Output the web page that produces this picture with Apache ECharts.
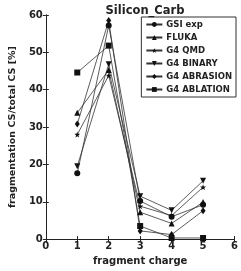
<!DOCTYPE html>
<html><head><meta charset="utf-8">
<script src="https://cdn.jsdelivr.net/npm/echarts@6/dist/echarts.min.js"></script>
<style>html,body{margin:0;padding:0;background:#fff}#c{width:241px;height:271px}</style>
</head><body><div id="c"></div>
<script>
const charges = [1, 2, 3, 4, 5];
const gsiExp   = [17.6, 57.2, 10.2, 6.0, 9.2];
const fluka    = [33.8, 45.3, 7.2, 4.2, 9.9];
const g4Qmd    = [28.0, 43.8, 8.8, 6.3, 13.9];
const g4Binary = [19.5, 46.8, 11.5, 7.7, 15.6];
const g4Abrasion = [30.8, 58.5, 2.2, 1.2, 7.6];
const g4Ablation = [44.6, 51.8, 3.5, 0.3, 0.3];
const seriesNames = ['GSI exp', 'FLUKA', 'G4 QMD', 'G4 BINARY', 'G4 ABRASION', 'G4 ABLATION'];
const xTicks = [0, 1, 2, 3, 4, 5, 6];
const yTicks = [0, 10, 20, 30, 40, 50, 60];

const starPath = 'path://M0,-10 L2.35,-3.24 L9.51,-3.09 L3.8,1.24 L5.88,8.09 L0,4 L-5.88,8.09 L-3.8,1.24 L-9.51,-3.09 L-2.35,-3.24 Z';
const invTri = 'path://M0,10 L-10,-7 L10,-7 Z';
const symbols = [
  {symbol: 'circle', size: 6},
  {symbol: 'triangle', size: 6},
  {symbol: starPath, size: 6},
  {symbol: invTri, size: 6},
  {symbol: 'diamond', size: [5, 7]},
  {symbol: 'rect', size: 6}
];
const allData = [gsiExp, fluka, g4Qmd, g4Binary, g4Abrasion, g4Ablation];
const font = 'DejaVu Sans';
const txt = '#222';

const chart = echarts.init(document.getElementById('c'));
const axisCommon = {
  min: 0,
  axisLine: {show: true, lineStyle: {color: '#222', width: 1}},
  axisTick: {show: true, inside: true, length: 3, lineStyle: {color: '#222'}},
  splitLine: {show: false}
};
chart.setOption({
  animation: false,
  backgroundColor: '#fff',
  title: {
    text: 'Silicon_Carb', left: 140, top: 0, textAlign: 'center',
    textStyle: {fontFamily: font, fontWeight: 'bold', fontSize: 11.5, color: txt}
  },
  grid: {left: 31, right: 3, top: 15, bottom: 22},
  legend: {
    data: seriesNames,
    orient: 'vertical', right: 5, top: 17,
    borderColor: '#333', borderWidth: 1, borderRadius: 0,
    padding: [3, 4, 3, 4],
    itemGap: 4, itemWidth: 16, itemHeight: 6,
    textStyle: {fontFamily: font, fontWeight: 'bold', fontSize: 8.5, color: txt, padding: [0, 0, 0, -1]},
    backgroundColor: '#fff'
  },
  xAxis: [
    Object.assign({}, axisCommon, {
      type: 'value', max: 6, interval: 1, position: 'bottom',
      name: 'fragment charge', nameLocation: 'middle', nameGap: 10,
      nameTextStyle: {fontFamily: font, fontWeight: 'bold', fontSize: 10, color: txt},
      axisLabel: {fontFamily: font, fontWeight: 'bold', fontSize: 10, color: txt, margin: 2}
    }),
    Object.assign({}, axisCommon, {
      type: 'value', max: 6, interval: 1, position: 'top',
      axisLabel: {show: false}
    })
  ],
  yAxis: [
    Object.assign({}, axisCommon, {
      type: 'value', max: 60, interval: 10, position: 'left',
      name: 'fragmentation CS/total CS [%]', nameLocation: 'middle', nameGap: 20,
      nameTextStyle: {fontFamily: font, fontWeight: 'bold', fontSize: 9.5, color: txt},
      axisLabel: {fontFamily: font, fontWeight: 'bold', fontSize: 10, color: txt, margin: 3}
    }),
    Object.assign({}, axisCommon, {
      type: 'value', max: 60, interval: 10, position: 'right',
      axisLabel: {show: false}
    })
  ],
  series: seriesNames.map((n, i) => ({
    name: n, type: 'line',
    xAxisIndex: 0, yAxisIndex: 0,
    data: charges.map((c, j) => [c, allData[i][j]]),
    symbol: symbols[i].symbol, symbolSize: symbols[i].size,
    showAllSymbol: true,
    itemStyle: {color: '#111', borderWidth: 0},
    lineStyle: {color: '#333', width: 0.8},
    emphasis: {disabled: true}
  }))
});
</script></body></html>
